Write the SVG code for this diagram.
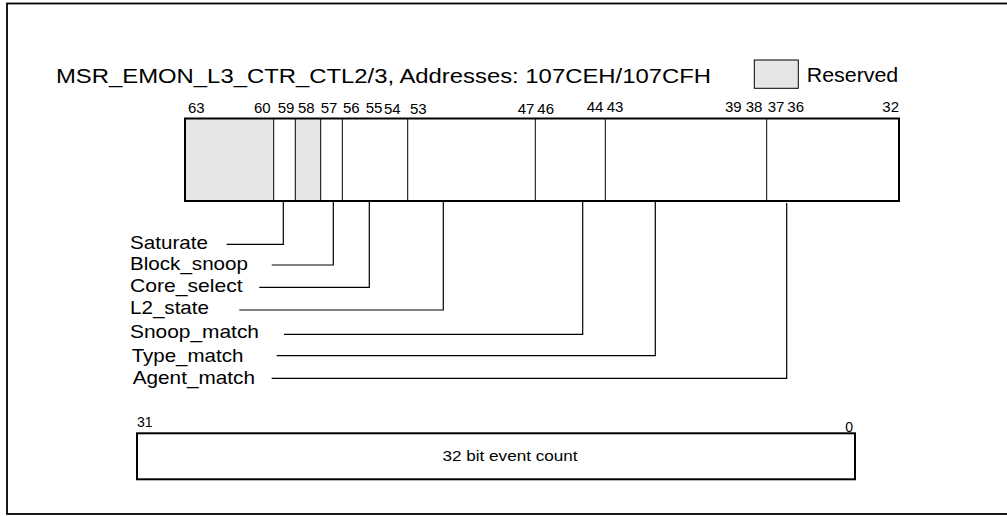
<svg xmlns="http://www.w3.org/2000/svg" width="1007" height="516" viewBox="0 0 1007 516">
<style>
text{font-family:"Liberation Sans",Arial,sans-serif;fill:#000}
.bit{font-size:15px}
.lbl{font-size:19px}
.frame{fill:none;stroke:#000;stroke-width:1.8}
.box{fill:none;stroke:#000;stroke-width:2}
.res{fill:#e6e6e6;stroke:none}
.div{stroke:#000;stroke-width:1;fill:none}
.con{stroke:#000;stroke-width:1.2;fill:none}
</style>
<rect width="1007" height="516" fill="#fff"/>
<rect class="frame" x="7" y="3.5" width="1010" height="510.5"/>
<g id="title">
<text x="56" y="83.3" font-size="20" textLength="655" lengthAdjust="spacingAndGlyphs">MSR_EMON_L3_CTR_CTL2/3, Addresses: 107CEH/107CFH</text>
</g>
<g id="legend">
<rect x="754.3" y="60" width="44" height="28.3" fill="#e6e6e6" stroke="#000" stroke-width="1"/>
<text x="806.7" y="81.7" font-size="20" textLength="91.6" lengthAdjust="spacingAndGlyphs">Reserved</text>
</g>
<g id="register-high">
<rect class="res" x="185" y="118.5" width="88.5" height="82.5"/>
<rect class="res" x="295.5" y="118.5" width="25" height="82.5"/>
<line class="div" x1="273.7" y1="118.5" x2="273.7" y2="201"/>
<line class="div" x1="295.3" y1="118.5" x2="295.3" y2="201"/>
<line class="div" x1="320.7" y1="118.5" x2="320.7" y2="201"/>
<line class="div" x1="342.3" y1="118.5" x2="342.3" y2="201"/>
<line class="div" x1="407.7" y1="118.5" x2="407.7" y2="201"/>
<line class="div" x1="535.3" y1="118.5" x2="535.3" y2="201"/>
<line class="div" x1="605.3" y1="118.5" x2="605.3" y2="201"/>
<line class="div" x1="766.7" y1="118.5" x2="766.7" y2="201"/>
<rect class="box" x="185" y="118.5" width="714" height="82.5"/>
<g class="bit">
<text x="188" y="113">63</text>
<text x="254" y="113">60</text>
<text x="277.7" y="113">59</text>
<text x="298" y="113">58</text>
<text x="320.7" y="113">57</text>
<text x="343" y="113">56</text>
<text x="365.7" y="113">55</text>
<text x="384" y="113.5">54</text>
<text x="410" y="113.5">53</text>
<text x="517.7" y="114">47</text>
<text x="537.3" y="114">46</text>
<text x="586.7" y="112">44</text>
<text x="606.7" y="112">43</text>
<text x="725" y="112.3">39</text>
<text x="745.7" y="112.3">38</text>
<text x="767.7" y="112.3">37</text>
<text x="787.3" y="112.3">36</text>
<text x="899" y="112.3" text-anchor="end">32</text>
</g>
</g>
<g id="labels" class="lbl">
<text x="130" y="249" textLength="78" lengthAdjust="spacingAndGlyphs">Saturate</text>
<text x="130" y="270" textLength="118" lengthAdjust="spacingAndGlyphs">Block_snoop</text>
<text x="130" y="292.3" textLength="112.7" lengthAdjust="spacingAndGlyphs">Core_select</text>
<text x="130" y="314.3" textLength="79" lengthAdjust="spacingAndGlyphs">L2_state</text>
<text x="130" y="338.3" textLength="129" lengthAdjust="spacingAndGlyphs">Snoop_match</text>
<text x="131.7" y="361.7" textLength="111.6" lengthAdjust="spacingAndGlyphs">Type_match</text>
<text x="132.7" y="384" textLength="122.3" lengthAdjust="spacingAndGlyphs">Agent_match</text>
</g>
<g id="connectors" class="con">
<polyline points="226.7,244.3 283.3,244.3 283.3,202"/>
<polyline points="271.7,265 333.3,265 333.3,202"/>
<polyline points="259.3,287.3 369.3,287.3 369.3,202"/>
<polyline points="239.3,310 443.3,310 443.3,202"/>
<polyline points="284,334.3 582.7,334.3 582.7,202"/>
<polyline points="276.7,355.7 655.3,355.7 655.3,202"/>
<polyline points="271.7,378.3 786.7,378.3 786.7,203"/>
</g>
<g id="register-low">
<rect class="box" x="137" y="433.3" width="718" height="46"/>
<text x="137" y="426.5" font-size="14">31</text>
<text x="853" y="431.5" font-size="14" text-anchor="end">0</text>
<text x="510" y="460.7" font-size="15.5" text-anchor="middle" textLength="135" lengthAdjust="spacingAndGlyphs">32 bit event count</text>
</g>
</svg>
